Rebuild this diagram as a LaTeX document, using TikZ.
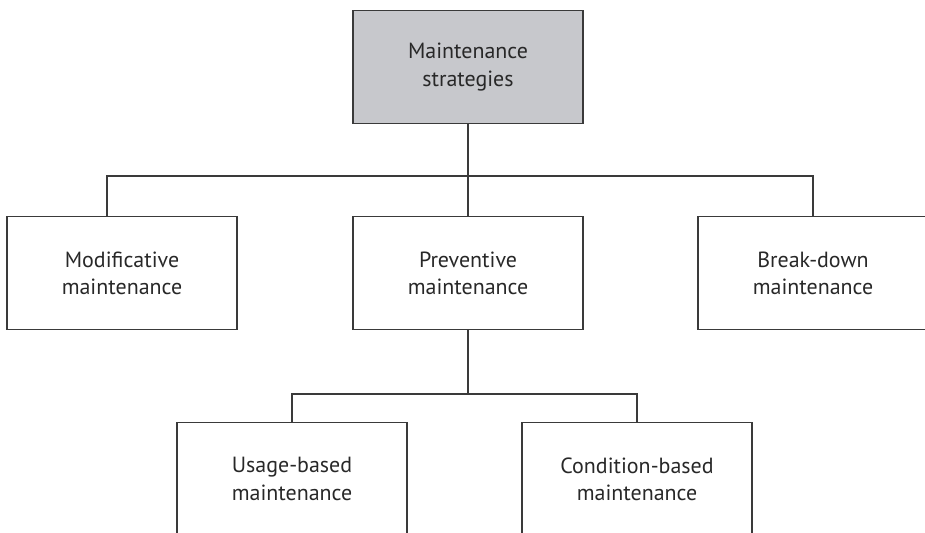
\documentclass[tikz,border=0pt]{standalone}
\usepackage{fontspec}
\setmainfont{PT Sans}

\definecolor{linegray}{RGB}{58,58,58}
\definecolor{rootfill}{RGB}{199,200,204}
\definecolor{textgray}{RGB}{40,40,40}

\begin{document}
\begin{tikzpicture}[x=0.02cm,y=-0.02cm,
		every node/.style={draw=linegray,line width=0.7pt,rectangle,align=center,
			minimum width=4.6cm,minimum height=2.26cm,inner sep=0pt,outer sep=0pt,
			text=textgray,font=\fontsize{12.5}{15.5}\selectfont},
		root/.style={fill=rootfill},
		link/.style={draw=linegray,line width=0.7pt}]
		\clip (0,0) rectangle (925,532);

		\node[root] (S) at (468,67){Maintenance\\strategies};
		\node (M) at (122,273){Modificative\\maintenance};
		\node (P) at (468,273){Preventive\\maintenance};
		\node (B) at (813,273){Break-down\\maintenance};
		\node (U) at (292,479){Usage-based\\maintenance};
		\node (C) at (637,479){Condition-based\\maintenance};

		\coordinate (ML) at (107,176);
		\coordinate (BR) at (813,176);
		\coordinate (UL) at (292,394);
		\coordinate (CR) at (637,394);

		\draw[link] (S) -- (P);
		\draw[link] (M.north -| ML) -- (ML) -- (BR) -- (B);

		\draw[link] (P.south) -- (P.south |- UL);
		\draw[link] (U) -- (UL) -- (CR) -- (C);

	\end{tikzpicture}
\end{document}
